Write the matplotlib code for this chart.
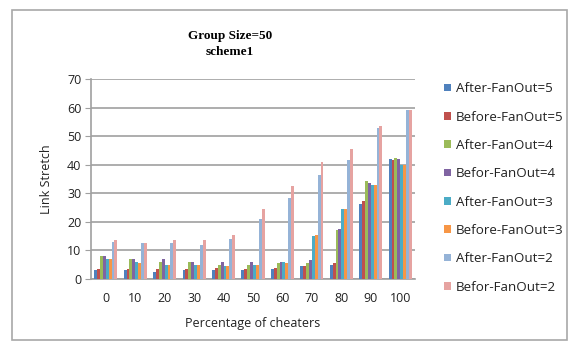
import matplotlib
matplotlib.use("Agg")
import matplotlib.pyplot as plt
import numpy as np
from matplotlib.patches import Rectangle

categories = ["0", "10", "20", "30", "40", "50", "60", "70", "80", "90", "100"]
series_names = ["After-FanOut=5", "Before-FanOut=5", "After-FanOut=4", "Befor-FanOut=4",
                "After-FanOut=3", "Before-FanOut=3", "After-FanOut=2", "Befor-FanOut=2"]
after5  = [3.0, 3.0, 2.5, 3.0, 3.0, 3.0, 3.5, 4.5, 5.0, 26.2, 42.0]
before5 = [3.5, 3.5, 3.5, 3.5, 4.0, 3.5, 4.0, 4.5, 5.5, 27.4, 41.5]
after4  = [8.0, 7.0, 6.0, 6.0, 5.0, 5.0, 5.5, 5.5, 17.0, 34.4, 42.5]
befor4  = [8.0, 7.0, 7.0, 6.0, 6.0, 6.0, 6.0, 6.5, 17.5, 33.5, 42.0]
after3  = [7.0, 6.0, 5.0, 5.0, 4.5, 5.0, 6.0, 15.0, 24.5, 33.0, 40.0]
before3 = [7.0, 5.5, 5.0, 5.0, 4.5, 5.0, 5.5, 15.5, 24.5, 33.0, 40.0]
after2  = [13.0, 12.5, 12.5, 12.0, 14.0, 21.0, 28.5, 36.5, 41.5, 52.7, 59.0]
befor2  = [13.5, 12.5, 13.5, 13.5, 15.5, 24.5, 32.5, 41.0, 45.5, 53.5, 59.0]
yticks = [0, 10, 20, 30, 40, 50, 60, 70]

series = [after5, before5, after4, befor4, after3, before3, after2, befor2]
colors = ["#4F81BD", "#C0504D", "#9BBB59", "#8064A2", "#4BACC6", "#F79646", "#95B3D7", "#E6A3A1"]

FS = 9
fig = plt.figure(figsize=(5.70, 3.47), dpi=100)
ax = fig.add_axes([91/570, 1-279/347, (415-91)/570, 200/347])

x = np.arange(len(categories))
n = len(series)
w = 0.098
handles = []
for i, (vals, c) in enumerate(zip(series, colors)):
    h = ax.bar(x + (i - (n-1)/2) * w, vals, width=w, color=c, edgecolor="none", zorder=3,
               label=series_names[i])
    handles.append(h)

ax.set_xlim(-0.5, len(categories) - 0.5)
ax.set_ylim(0, 70)
ax.set_yticks(yticks)
ax.set_xticks(x)
ax.set_xticklabels(categories)
ax.grid(axis="y", color="#a0a0a0", linewidth=1.2, zorder=0)
for s in ["top", "right"]:
    ax.spines[s].set_visible(False)
for s in ["left", "bottom"]:
    ax.spines[s].set_color("#a0a0a0")
    ax.spines[s].set_linewidth(1.2)
ax.tick_params(axis="y", length=4, color="#a0a0a0", labelsize=FS, pad=3, labelcolor="#222222")
ax.tick_params(axis="x", length=0, labelsize=FS, pad=9, labelcolor="#222222")
for lab in ax.get_xticklabels() + ax.get_yticklabels():
    lab.set_fontfamily("Open Sans")

ax.set_xlabel("Percentage of cheaters", fontsize=FS, fontfamily="Open Sans", labelpad=9, color="#222222")
ax.set_ylabel("Link Stretch", fontsize=FS, fontfamily="Open Sans", labelpad=10, color="#222222")

fig.text(230/570, 1-36/347, "Group Size=50", ha="center", va="center",
         fontfamily="Liberation Serif", fontweight="bold", fontsize=9.5)
fig.text(230/570, 1-52/347, "scheme1", ha="center", va="center",
         fontfamily="Liberation Serif", fontweight="bold", fontsize=9.5)

leg = fig.legend(handles=handles, loc="upper left", bbox_to_anchor=(439/570, 1-77/347),
                 frameon=False, handlelength=0.5, handleheight=0.5,
                 handletextpad=0.35, labelspacing=1.15, borderaxespad=0,
                 prop={"family": "Open Sans", "size": 9.6})
for t in leg.get_texts():
    t.set_color("#222222")

fig.patches.append(Rectangle((12/570, 1-340/347), 0.995 - 12/570, (340-10)/347,
                             transform=fig.transFigure, fill=False,
                             edgecolor="#a8a8a8", linewidth=1.2))

fig.savefig("out.png", dpi=100)
